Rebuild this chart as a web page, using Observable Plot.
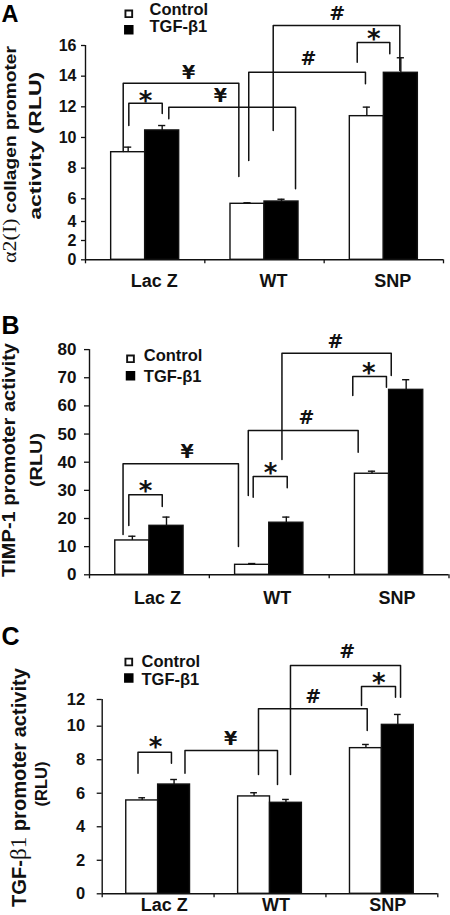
<!DOCTYPE html>
<html><head><meta charset="utf-8">
<script src="https://cdn.jsdelivr.net/npm/d3@7"></script>
<script src="https://cdn.jsdelivr.net/npm/@observablehq/plot@0.6"></script>
<style>
body{margin:0;background:#fff;}
#chart{width:450px;height:915px;overflow:hidden;}
#chart svg{display:block;overflow:visible;}
</style></head><body><div id="chart"></div>
<script>
// ---------- data ----------
const categories = ["Lac Z", "WT", "SNP"];
const series = ["Control", "TGF-β1"];

// Panel A: α2(I) collagen promoter activity
const aControl = [9.04, 5.56, 11.39];
const aControlErr = [0.33, 0.09, 0.59];
const aTGF = [10.46, 5.76, 14.22];
const aTGFErr = [0.32, 0.2, 0.98];
const aTicks = [0, 2, 4, 6, 8, 10, 12, 14, 16];
const aBrackets = [
  {from: -0.137, to: 0.143, y: 12.24, leftEnd: 10.78, rightEnd: 11.56, mark: "*", markX: 0.003, markY: 12.74},
  {from: -0.184, to: 0.785, y: 13.54, leftEnd: 9.09, rightEnd: 7.45, mark: "¥", markX: 0.363, markY: 14.24},
  {from: 0.198, to: 1.26, y: 11.98, leftEnd: 11.22, rightEnd: 6.65, mark: "¥", markX: 0.631, markY: 12.74},
  {from: 0.868, to: 1.846, y: 14.26, leftEnd: 8.5, rightEnd: 13.5, mark: "#", markX: 1.369, markY: 15.15},
  {from: 1.073, to: 2.134, y: 17.3, leftEnd: 10.46, rightEnd: 14.37, mark: "#", markX: 1.609, markY: 18.09},
  {from: 1.777, to: 2.05, y: 16.2, leftEnd: 14.91, rightEnd: 15.46, mark: "*", markX: 1.916, markY: 16.78}
];

// Panel B: TIMP-1 promoter activity
const bControl = [12.2, 3.55, 35.9];
const bControlErr = [1.5, 0.45, 0.9];
const bTGF = [17.4, 18.5, 65.7];
const bTGFErr = [3.1, 2.0, 3.6];
const bTicks = [0, 10, 20, 30, 40, 50, 60, 70, 80];
const bBrackets = [
  {from: -0.172, to: 0.107, y: 28.42, leftEnd: 17.51, rightEnd: 24.26, mark: "*", markX: -0.033, markY: 31.72},
  {from: -0.22, to: 0.743, y: 39.43, leftEnd: 14.32, rightEnd: 10.05, mark: "¥", markX: 0.315, markY: 43.55},
  {from: 0.866, to: 1.15, y: 34.92, leftEnd: 27.57, rightEnd: 30.91, mark: "*", markX: 1.01, markY: 38.22},
  {from: 0.825, to: 1.742, y: 51.26, leftEnd: 28.17, rightEnd: 43.55, mark: "#", markX: 1.311, markY: 55.77},
  {from: 1.106, to: 2.018, y: 78.72, leftEnd: 40.96, rightEnd: 70.8, mark: "#", markX: 1.553, markY: 82.63},
  {from: 1.697, to: 1.978, y: 70.44, leftEnd: 63.69, rightEnd: 66.64, mark: "*", markX: 1.831, markY: 73.75}
];

// Panel C: TGF-β1 promoter activity
const cControl = [5.57, 5.81, 8.69];
const cControlErr = [0.16, 0.22, 0.22];
const cTGF = [6.52, 5.43, 10.1];
const cTGFErr = [0.3, 0.2, 0.78];
const cTicks = [0, 2, 4, 6, 8, 10, 12];
const cBrackets = [
  {from: -0.18, to: 0.119, y: 8.45, leftEnd: 7.19, rightEnd: 7.79, mark: "*", markX: -0.024, markY: 9.05},
  {from: 0.24, to: 1.067, y: 8.55, leftEnd: 7.19, rightEnd: 6.52, mark: "¥", markX: 0.647, markY: 9.25},
  {from: 0.897, to: 1.869, y: 11.3, leftEnd: 7.12, rightEnd: 9.74, mark: "#", markX: 1.386, markY: 12.17},
  {from: 1.183, to: 2.167, y: 14.55, leftEnd: 7.12, rightEnd: 12.17, mark: "#", markX: 1.69, markY: 15.54},
  {from: 1.818, to: 2.122, y: 12.97, leftEnd: 11.55, rightEnd: 12.17, mark: "*", markX: 1.973, markY: 13.67}
];

const panelLetters = ["A", "B", "C"];
const aTitle = [[{t: "α2(I)", serif: true}, {t: " collagen promoter"}], [{t: "activity (RLU)"}]];
const bTitle = [[{t: "TIMP-1 promoter activity"}], [{t: "(RLU)"}]];
const cTitle = [[{t: "TGF-"}, {t: "β1", serif: true}, {t: " promoter activity"}], [{t: "(RLU)"}]];

// ---------- drawing ----------
const SANS = "'Liberation Sans', Arial, Helvetica, sans-serif";
const HEAVY = "'DejaVu Sans', 'Liberation Sans', sans-serif";
const SERIF = "'Liberation Serif', 'Times New Roman', serif";
const INK = "#111";
const BW = 0.285; // bar width in category units

function rows(ctrl, ctrlErr, tgf, tgfErr) {
  return categories.flatMap((c, i) => [
    {cat: c, series: series[0], value: ctrl[i], err: ctrlErr[i]},
    {cat: c, series: series[1], value: tgf[i], err: tgfErr[i]}
  ]);
}
const idx = d => categories.indexOf(d.cat);
const leftEdge = d => idx(d) + (d.series === series[0] ? -BW : 0);
const center = d => leftEdge(d) + BW / 2;

function bracketPoints(brs) {
  return brs.flatMap((b, k) => [
    {id: k, x: b.from, y: b.leftEnd},
    {id: k, x: b.from, y: b.y},
    {id: k, x: b.to, y: b.y},
    {id: k, x: b.to, y: b.rightEnd}
  ]);
}

function panel(cfg) {
  const data = rows(...cfg.values);
  const at = (x, y) => ({frameAnchor: "top-left", dx: x - cfg.ml, dy: y - cfg.mt});
  const L = cfg.legend;
  const svg = Plot.plot({
    width: 450, height: cfg.height,
    marginLeft: cfg.ml, marginRight: cfg.mr, marginTop: cfg.mt, marginBottom: cfg.mb,
    style: {fontFamily: SANS, fontSize: cfg.tickFont + "px", fontWeight: "bold", color: INK, background: "white"},
    x: {type: "linear", domain: [-0.5, 2.5], range: [cfg.ml, 450 - cfg.mr]},
    y: {type: "linear", domain: cfg.yDomain, range: cfg.yRange},
    marks: [
      Plot.rect(data, {x1: leftEdge, x2: d => leftEdge(d) + BW, y1: 0, y2: "value",
        fill: d => d.series === series[0] ? "white" : "black", stroke: INK, strokeWidth: 1.4}),
      Plot.ruleX(data, {x: center, y1: "value", y2: d => d.value + d.err, stroke: INK, strokeWidth: 1.4}),
      Plot.ruleY(data, {y: d => d.value + d.err, x1: d => center(d) - 0.03, x2: d => center(d) + 0.03, stroke: INK, strokeWidth: 1.4}),
      Plot.line(bracketPoints(cfg.brackets), {x: "x", y: "y", z: "id", stroke: INK, strokeWidth: 1.5, curve: "linear"}),
      Plot.text(cfg.brackets.filter(b => b.mark === "*"), {x: "markX", y: "markY", text: "mark", fontFamily: HEAVY, fontSize: 26, fontWeight: "bold", dy: 6, fill: INK}),
      Plot.text(cfg.brackets.filter(b => b.mark !== "*"), {x: "markX", y: "markY", text: "mark", fontFamily: HEAVY, fontSize: 19, fontWeight: "bold", fill: INK}),
      Plot.ruleY([0], {stroke: INK, strokeWidth: 1.4}),
      Plot.ruleX([-0.5], {stroke: INK, strokeWidth: 1.4}),
      Plot.axisY({ticks: cfg.ticks, tickSize: cfg.tickSize, tickPadding: cfg.tickPad, label: null, stroke: INK, strokeWidth: 1.3}),
      Plot.axisX({ticks: [-0.5, 0.5, 1.5, 2.5], tickSize: 4, tickFormat: () => "", label: null, stroke: INK, strokeWidth: 1.3}),
      Plot.text(categories, {x: (d, i) => i, frameAnchor: "bottom", dx: cfg.catDx, dy: cfg.catDy, lineAnchor: "bottom", fontSize: 18, fontWeight: "bold", fill: INK}),
      // panel letter
      Plot.text([cfg.letter], {...at(1, cfg.letterY), textAnchor: "start", lineAnchor: "bottom", fontSize: cfg.letterSize, fontWeight: "bold", fill: "black"}),
      // legend
      Plot.dot([series[0]], {...at(L.sx, L.s0), symbol: "square", r: 3.8, fill: "white", stroke: INK, strokeWidth: 1.9}),
      Plot.dot([series[1]], {...at(L.sx, L.s1), symbol: "square", r: 4.5, fill: "black", stroke: "black"}),
      Plot.text([series[0]], {...at(L.tx, L.t0), textAnchor: "start", lineAnchor: "bottom", fontSize: 16.5, fontWeight: "bold", fill: INK}),
      Plot.text([series[1]], {...at(L.tx, L.t1), textAnchor: "start", lineAnchor: "bottom", fontSize: 16.5, fontWeight: "bold", fill: INK})
    ]
  });
  // rotated two-line y-axis title
  cfg.title.forEach((parts, li) => {
    const T = cfg.titleLayout[li];
    const t = d3.select(svg).append("text")
      .attr("transform", `translate(${T.x},${T.cy + T.len / 2}) rotate(-90)`)
      .attr("text-anchor", "start")
      .attr("textLength", T.len).attr("lengthAdjust", "spacingAndGlyphs")
      .attr("font-size", T.size).attr("fill", INK);
    parts.forEach(p => t.append("tspan")
      .attr("font-family", p.serif ? SERIF : SANS)
      .attr("font-weight", p.serif ? "normal" : "bold")
      .attr("font-size", p.serif ? T.size * 1.15 : T.size)
      .text(p.t));
  });
  return svg;
}

const root = document.getElementById("chart");
root.appendChild(panel({
  letter: panelLetters[0], letterY: 21.5, letterSize: 23.5,
  values: [aControl, aControlErr, aTGF, aTGFErr], brackets: aBrackets, ticks: aTicks, title: aTitle,
  height: 300, ml: 85, mr: 7, mt: 45, mb: 40.7,
  yDomain: [0, 2, 4, 6, 16], yRange: [259.3, 240, 221, 198.3, 45],
  tickFont: 16, tickSize: 4, tickPad: 5, catDx: 9, catDy: 27.4,
  legend: {sx: 128.3, s0: 13.3, s1: 29.2, tx: 149, t0: 14, t1: 31.5},
  titleLayout: [{x: 15.5, cy: 154.5, len: 217, size: 16.5}, {x: 40.5, cy: 145.8, len: 148, size: 16.5}]
}));
root.appendChild(panel({
  letter: panelLetters[1], letterY: 33.3, letterSize: 25,
  values: [bControl, bControlErr, bTGF, bTGFErr], brackets: bBrackets, ticks: bTicks, title: bTitle,
  height: 310, ml: 89, mr: 1.5, mt: 49.1, mb: 35.7,
  yDomain: [0, 80], yRange: [274.3, 49.1],
  tickFont: 17, tickSize: 5, tickPad: 8, catDx: 8, catDy: 29,
  legend: {sx: 130, s0: 58.3, s1: 75.3, tx: 143.3, t0: 60, t1: 81},
  titleLayout: [{x: 15, cy: 160, len: 234, size: 18}, {x: 42, cy: 160, len: 54, size: 16.5}]
}));
root.appendChild(panel({
  letter: panelLetters[2], letterY: 34, letterSize: 25,
  values: [cControl, cControlErr, cTGF, cTGFErr], brackets: cBrackets, ticks: cTicks, title: cTitle,
  height: 305, ml: 101.7, mr: 12.7, mt: 89, mb: 21.7,
  yDomain: [0, 10, 12], yRange: [283.3, 115.7, 89],
  tickFont: 16.5, tickSize: 5, tickPad: 12, catDx: 6, catDy: 17.5,
  legend: {sx: 128.3, s0: 51.5, s1: 67.5, tx: 141, t0: 56, t1: 74},
  titleLayout: [{x: 26.3, cy: 177.5, len: 239, size: 20}, {x: 46.7, cy: 174, len: 45, size: 16.5}]
}));
</script></body></html>
